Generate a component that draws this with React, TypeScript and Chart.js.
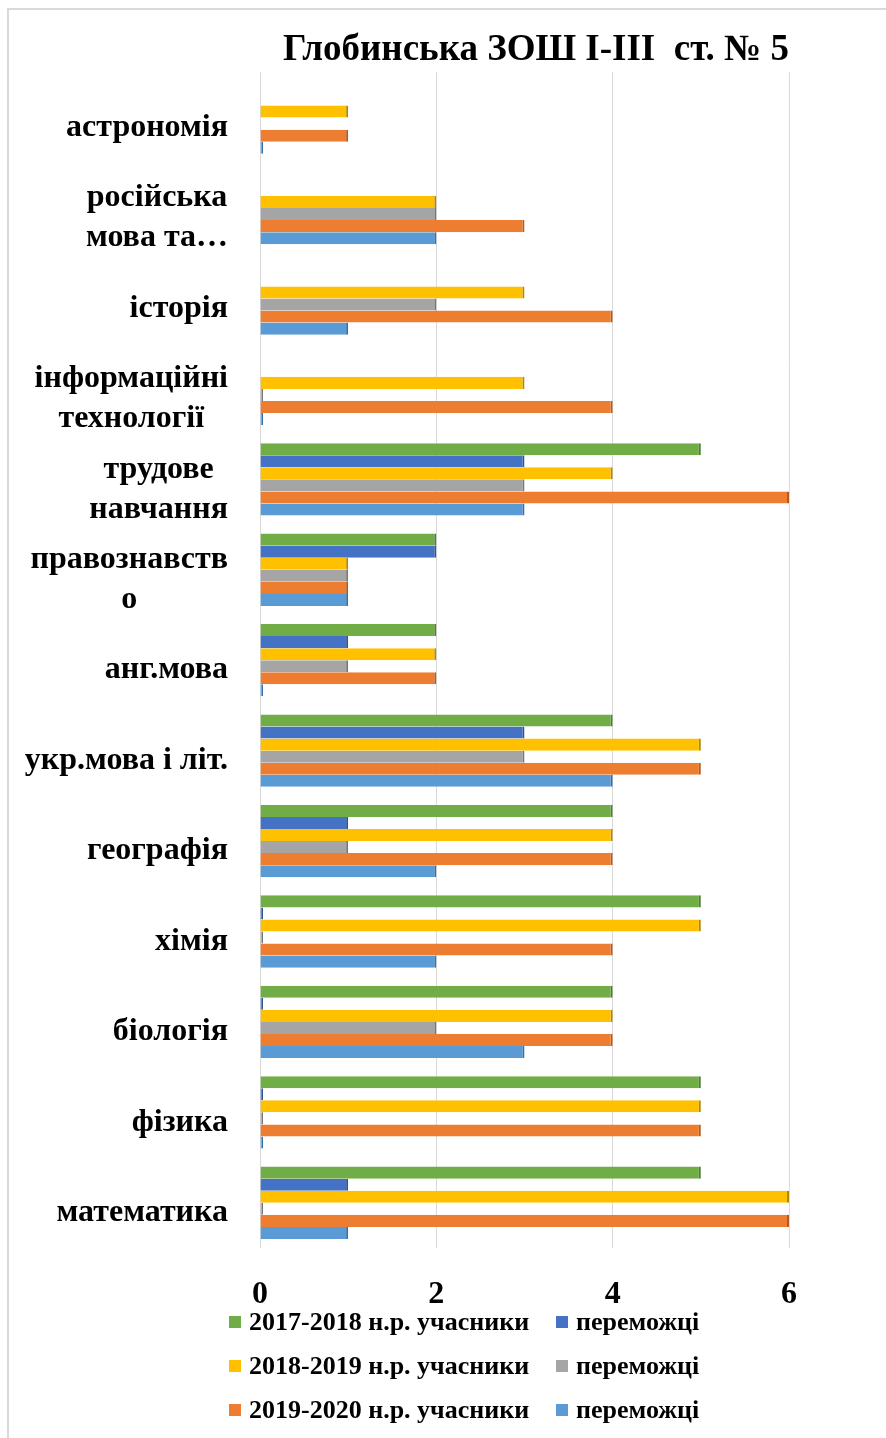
import { useEffect, useRef } from "react";
import { Chart, registerables } from "chart.js";

Chart.register(...registerables);

const titleText = "Глобинська ЗОШ І-ІІІ  ст. № 5";

const categories: string[][] = [
  ["астрономія"],
  ["російська", "мова та…"],
  ["історія"],
  ["інформаційні", "технології"],
  ["трудове", "навчання"],
  ["правознавств", "о"],
  ["анг.мова"],
  ["укр.мова і літ."],
  ["географія"],
  ["хімія"],
  ["біологія"],
  ["фізика"],
  ["математика"],
];

const seriesLabels = [
  "2017-2018 н.р. учасники",
  "переможці",
  "2018-2019 н.р. учасники",
  "переможці",
  "2019-2020 н.р. учасники",
  "переможці",
];

const participants2017 = [null, null, null, null, 5, 2, 2, 4, 4, 5, 4, 5, 5];
const winners2017 = [null, null, null, null, 3, 2, 1, 3, 1, 0, 0, 0, 1];
const participants2018 = [1, 2, 3, 3, 4, 1, 2, 5, 4, 5, 4, 5, 6];
const winners2018 = [null, 2, 2, 0, 3, 1, 1, 3, 1, 0, 2, 0, 0];
const participants2019 = [1, 3, 4, 4, 6, 1, 2, 5, 4, 4, 4, 5, 6];
const winners2019 = [0, 2, 1, 0, 3, 1, 0, 4, 2, 2, 3, 0, 1];

const xTicks = [0, 2, 4, 6];

const fills = ["#70AD47", "#4472C4", "#FFC000", "#A5A5A5", "#ED7D31", "#5B9BD5"];
const edges = ["#4E7D31", "#2F5597", "#B38700", "#767676", "#B65A1B", "#2E6FAE"];

const FONT = '"Liberation Serif", "Times New Roman", serif';

const framePlugin = {
  id: "frame",
  beforeDraw(chart: any) {
    const { ctx, width, height } = chart;
    ctx.save();
    ctx.fillStyle = "#ffffff";
    ctx.fillRect(0, 0, width, height);
    ctx.strokeStyle = "#d9d9d9";
    ctx.lineWidth = 2;
    ctx.beginPath();
    ctx.moveTo(8, height);
    ctx.lineTo(8, 9);
    ctx.lineTo(width, 9);
    ctx.stroke();
    ctx.restore();
  },
};

const yLabelPlugin = {
  id: "yLabels",
  afterDraw(chart: any) {
    const { ctx, chartArea } = chart;
    const yScale = chart.scales.y;
    ctx.save();
    ctx.font = `bold 32px ${FONT}`;
    ctx.fillStyle = "#000";
    ctx.textAlign = "center";
    ctx.textBaseline = "middle";
    (chart.data.labels as any[]).forEach((lab, i) => {
      const lines: string[] = Array.isArray(lab) ? lab : [lab];
      const w = Math.max(...lines.map((l) => ctx.measureText(l).width));
      const cx = chartArea.left - 32 - w / 2;
      const cy = yScale.getPixelForValue(i) + 10;
      const lh = 40;
      lines.forEach((l, j) => {
        ctx.fillText(l, cx, cy + (j - (lines.length - 1) / 2) * lh);
      });
    });
    ctx.restore();
  },
};

const legendPlugin = {
  id: "gridLegend",
  afterDraw(chart: any) {
    const { ctx, chartArea } = chart;
    ctx.save();
    ctx.font = `bold 26px ${FONT}`;
    ctx.textBaseline = "middle";
    ctx.textAlign = "left";
    chart.data.datasets.forEach((ds: any, i: number) => {
      const col = i % 2;
      const row = Math.floor(i / 2);
      const x = chartArea.left + (col === 0 ? -31 : 296);
      const y = chartArea.bottom + 74 + row * 44;
      ctx.fillStyle = ds.backgroundColor;
      ctx.fillRect(x, y - 6, 12, 12);
      ctx.fillStyle = "#000";
      ctx.fillText(ds.label, x + 20, y + 1);
    });
    ctx.restore();
  },
};

export default function App() {
  const ref = useRef<HTMLCanvasElement | null>(null);

  useEffect(() => {
    document.body.style.margin = "0";
    const canvas = ref.current;
    if (!canvas) return;
    const values = [
      participants2017,
      winners2017,
      participants2018,
      winners2018,
      participants2019,
      winners2019,
    ];
    const chart = new Chart(canvas, {
      type: "bar",
      data: {
        labels: categories,
        datasets: values.map((v, i) => ({
          label: seriesLabels[i],
          data: v as any,
          backgroundColor: fills[i],
          borderColor: edges[i],
          borderWidth: { top: 0, right: 2, bottom: 0, left: 0 },
          borderSkipped: "start",
          minBarLength: 3,
          categoryPercentage: 0.8,
          barPercentage: 1.0,
        })),
      },
      plugins: [framePlugin, yLabelPlugin, legendPlugin],
      options: {
        indexAxis: "y",
        animation: false,
        responsive: false,
        devicePixelRatio: 1,
        layout: { padding: { left: 0, right: 97, top: 0, bottom: 120 } },
        plugins: {
          legend: { display: false },
          tooltip: { enabled: false },
          title: {
            display: true,
            text: titleText,
            align: "end",
            color: "#000",
            font: { family: FONT, size: 37, weight: "bold" },
            padding: { top: 28, bottom: 0 },
          },
        },
        scales: {
          x: {
            min: 0,
            max: 6,
            afterBuildTicks: (scale: any) => {
              scale.ticks = xTicks.map((v) => ({ value: v }));
            },
            afterFit: (scale: any) => {
              scale.height = 70;
            },
            grid: { color: "#d9d9d9", drawTicks: false, lineWidth: 1 },
            border: { display: false },
            ticks: {
              color: "#000",
              padding: 28,
              font: { family: FONT, size: 32, weight: "bold" },
            },
          },
          y: {
            afterFit: (scale: any) => {
              scale.width = 260;
            },
            grid: { display: false, drawTicks: false },
            border: { display: false },
            ticks: { display: false },
          },
        },
      },
    });
    return () => chart.destroy();
  }, []);

  return (
    <canvas
      ref={ref}
      width={886}
      height={1438}
      style={{ display: "block", width: 886, height: 1438 }}
    />
  );
}
